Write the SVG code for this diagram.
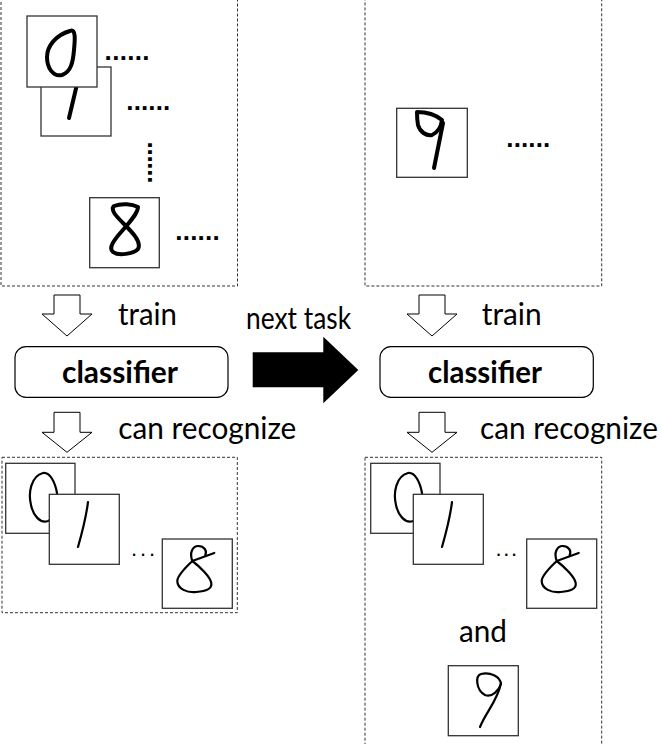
<svg xmlns="http://www.w3.org/2000/svg" width="661" height="744" viewBox="0 0 661 744">
<style>
.panel{fill:none;stroke:#333;stroke-width:1;stroke-dasharray:3 2}
.img{fill:#fff;stroke:#333;stroke-width:1.3}
.thick{fill:none;stroke:#000;stroke-width:4;stroke-linecap:round;stroke-linejoin:round}
.thin{fill:none;stroke:#000;stroke-width:2.2;stroke-linecap:round;stroke-linejoin:round}
.lbl{font-family:Lato,"Liberation Sans",sans-serif;font-size:30px;fill:#000}
.bold{font-family:Lato,"Liberation Sans",sans-serif;font-size:30px;font-weight:bold;fill:#000}
.dots{font-family:"Liberation Sans",sans-serif;font-size:26px;font-weight:bold;fill:#000}
.dots2{font-family:"Liberation Sans",sans-serif;font-size:22px;fill:#000}
.hollow{fill:#fff;stroke:#000;stroke-width:1}
.box{fill:#fff;stroke:#000;stroke-width:1.2}
</style>

<g id="panel-task1">
  <rect class="panel" x="1" y="-5" width="236.5" height="291"/>
  <g id="img-1-top">
    <rect class="img" x="41" y="67" width="70" height="69"/>
    <path class="thick" d="M78,80 L69,118" stroke-width="3.5"/>
  </g>
  <g id="img-0-top">
    <rect class="img" x="27" y="16" width="70" height="71" stroke="#000"/>
    <path class="thick" d="M70,31 C76,28 75,40 74,50 C73,62 71,72 62,75 C53,77 47,68 47,57 C47,46 56,35 70,31 Z"/>
  </g>
  <g id="img-8-top">
    <rect class="img" x="89.7" y="197.7" width="69.6" height="70"/>
    <path class="thick" d="M114,206 C122,203 132,204 138,207 C138,213 130,222 122,231 C114,240 108,248 113,252 C118,256 134,254 138,249 C142,242 132,232 124,224 C116,216 110,210 114,206 Z"/>
  </g>
  <text class="dots" x="104.6" y="59.5" textLength="44.9" lengthAdjust="spacing">......</text>
  <text class="dots" x="126.3" y="110.1" textLength="44" lengthAdjust="spacing">......</text>
  <text class="dots" transform="translate(148.3,141.5) rotate(90)" x="0" y="0" textLength="42" lengthAdjust="spacing">......</text>
  <text class="dots" x="175.3" y="240.1" textLength="44.4" lengthAdjust="spacing">......</text>
</g>

<g id="panel-task2">
  <rect class="panel" x="365" y="-5" width="236.7" height="291"/>
  <g id="img-9-top">
    <rect class="img" x="396.7" y="108.3" width="70.6" height="69"/>
    <path class="thick" d="M417,112 C426,112 436,115 442,120 C441,127 437,133 432,135 C426,136 420,132 418,125 C417,120 417,115 417,112 Z"/>
    <path class="thick" d="M443,123 C440,138 437,153 434,168"/>
  </g>
  <text class="dots" x="506.3" y="147.1" textLength="44" lengthAdjust="spacing">......</text>
</g>

<g id="connectors">
  <polygon id="arrow-train-1" class="hollow" points="54,295 80,295 80,314 92,314 67,336 42,314 54,314"/>
  <polygon id="arrow-recog-1" class="hollow" points="54,412.3 80,412.3 80,432.3 92,432.3 67,452.3 42,432.3 54,432.3"/>
  <polygon id="arrow-train-2" class="hollow" points="419,295 445,295 445,314 457,314 432,336 407,314 419,314"/>
  <polygon id="arrow-recog-2" class="hollow" points="419,412.3 445,412.3 445,432.3 457,432.3 432,452.3 407,432.3 419,432.3"/>
  <polygon id="arrow-next" fill="#000" points="252.7,352.3 323.3,352.3 323.3,336.7 358.3,370 323.3,403.3 323.3,387.3 252.7,387.3"/>
</g>

<g id="labels">
  <text class="lbl" x="118" y="325" textLength="59" lengthAdjust="spacingAndGlyphs">train</text>
  <text class="lbl" x="481.7" y="325" textLength="60" lengthAdjust="spacingAndGlyphs">train</text>
  <text class="lbl" x="246" y="329.3" textLength="105" lengthAdjust="spacingAndGlyphs">next task</text>
  <text class="lbl" x="118.3" y="439.3" textLength="178" lengthAdjust="spacingAndGlyphs">can recognize</text>
  <text class="lbl" x="480" y="439.3" textLength="178" lengthAdjust="spacingAndGlyphs">can recognize</text>
</g>

<g id="classifier-1">
  <rect class="box" x="15" y="346.7" width="213" height="50.6" rx="11"/>
  <text class="bold" x="62" y="382.7" textLength="116" lengthAdjust="spacingAndGlyphs">classifier</text>
</g>
<g id="classifier-2">
  <rect class="box" x="380" y="346.7" width="213.3" height="50.6" rx="11"/>
  <text class="bold" x="428" y="382.7" textLength="114" lengthAdjust="spacingAndGlyphs">classifier</text>
</g>

<g id="result-1">
  <rect class="panel" x="2" y="457.3" width="235.3" height="155.4"/>
  <g id="res1-img0">
    <rect class="img" x="5.7" y="463.3" width="69.3" height="70"/>
    <path class="thin" d="M43,473 C50,472 55,482 57,493 C58,505 55,518 48,521 C40,524 33,515 31,505 C28,493 31,476 43,473 Z"/>
  </g>
  <g id="res1-img1">
    <rect class="img" x="49.3" y="494.3" width="70" height="70"/>
    <path class="thin" d="M88,502 C86,518 82,533 78,547"/>
  </g>
  <text class="dots2" x="131" y="556.2" textLength="24" lengthAdjust="spacing">...</text>
  <g id="res1-img8">
    <rect class="img" x="162.3" y="539" width="70" height="69.3"/>
    <path class="thin" transform="translate(162.3,539)" d="M52,14 L30,22 C27,14 30,7 36,7 C42,7 45,12 43,16 M30,22 C24,28 15,36 15,42 C15,50 25,54 34,53 C44,52 50,50 49,44 C48,38 38,28 30,22"/>
  </g>
</g>

<g id="result-2">
  <rect class="panel" x="365" y="457.3" width="236.7" height="300"/>
  <g id="res2-img0">
    <rect class="img" x="370.7" y="463.3" width="69.3" height="70"/>
    <path class="thin" transform="translate(365,0)" d="M43,473 C50,472 55,482 57,493 C58,505 55,518 48,521 C40,524 33,515 31,505 C28,493 31,476 43,473 Z"/>
  </g>
  <g id="res2-img1">
    <rect class="img" x="413.3" y="494.3" width="70" height="70"/>
    <path class="thin" transform="translate(364,0)" d="M88,502 C86,518 82,533 78,547"/>
  </g>
  <text class="dots2" x="495.4" y="556.2" textLength="21.6" lengthAdjust="spacing">...</text>
  <g id="res2-img8">
    <rect class="img" x="526.7" y="539" width="70" height="69.3"/>
    <path class="thin" transform="translate(526.7,539)" d="M52,14 L30,22 C27,14 30,7 36,7 C42,7 45,12 43,16 M30,22 C24,28 15,36 15,42 C15,50 25,54 34,53 C44,52 50,50 49,44 C48,38 38,28 30,22"/>
  </g>
  <text class="lbl" x="459" y="641.7" textLength="48" lengthAdjust="spacingAndGlyphs">and</text>
  <g id="res2-img9">
    <rect class="img" x="448.3" y="665.7" width="70" height="70"/>
    <path class="thin" d="M481,674 C475,676 476,690 485,695 C492,698 499,690 501,684 C500,676 490,672 481,674 Z"/>
    <path class="thin" d="M501,683 C498,700 486,712 480,727"/>
  </g>
</g>
</svg>
